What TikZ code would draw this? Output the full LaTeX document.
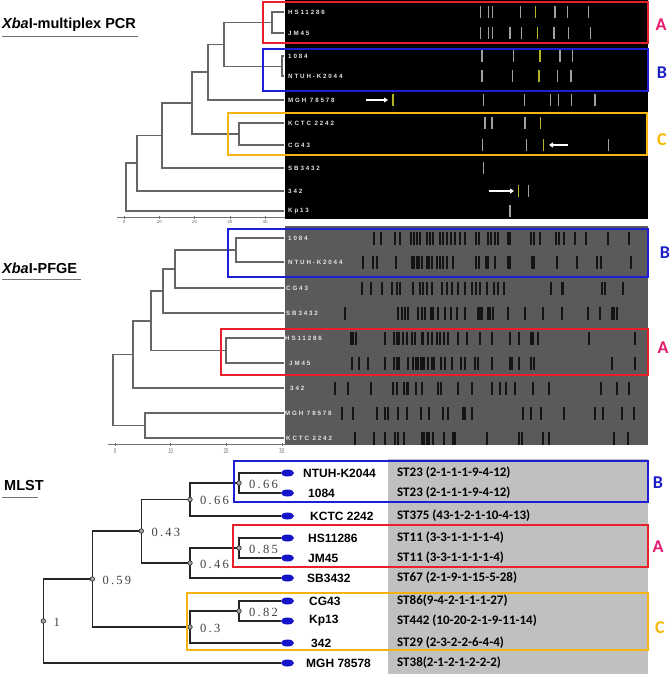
\documentclass[tikz,border=0pt]{standalone}
\usepackage{fontspec}
\setmainfont{Liberation Sans}
\newfontfamily\gelfont[LetterSpace=30]{Liberation Sans}
\newfontfamily\stfont{Carlito}
\newfontfamily\numfont[LetterSpace=18]{Liberation Serif}
\usetikzlibrary{arrows.meta,shapes.geometric}
\definecolor{boxred}{HTML}{E8202A}
\definecolor{boxblue}{HTML}{1E1ED8}
\definecolor{boxyel}{HTML}{F5B410}
\definecolor{letA}{HTML}{E6196E}
\definecolor{letB}{HTML}{1E1EC8}
\definecolor{letC}{HTML}{F5B800}
\definecolor{gelbg}{HTML}{5A5A5A}
\definecolor{bandgray}{HTML}{A0A0A0}
\definecolor{bandyel}{HTML}{B4B428}
\definecolor{stbg}{HTML}{C0C0C0}
\definecolor{ellblue}{HTML}{1414C8}
\newcommand\gelbands[4]{\foreach \bx in {#4} {\draw[#1] (\bx,#2-#3) -- (\bx,#2+#3);}}
\tikzset{
 tree/.style={line width=1.1pt, draw=black!60},
 mtree/.style={line width=1.3pt, draw=black!85},
 gellab/.style={anchor=west, inner sep=0pt, font=\gelfont\bfseries\fontsize{6.2}{7}\selectfont, text=black!10},
 pcrband/.style={line width=1.4pt, draw=bandgray},
 pcryband/.style={line width=1.4pt, draw=bandyel},
 pfband/.style={line width=1.4pt, draw=black!92},
 grpbox/.style={line width=1.8pt},
 grplet/.style={font=\stfont\bfseries\fontsize{18}{20}\selectfont, inner sep=0pt},
 mlab/.style={anchor=west, inner sep=0pt, font=\bfseries\fontsize{12}{14}\selectfont},
 stlab/.style={anchor=west, inner sep=0pt, font=\stfont\bfseries\fontsize{13}{15}\selectfont},
 numlab/.style={anchor=west, inner sep=0pt, font=\numfont\fontsize{12.5}{13}\selectfont, text=black!75},
 jdot/.style={circle, draw=black!80, fill=black!35, inner sep=0pt, minimum size=4.5pt, line width=0.7pt},
 mell/.style={ellipse, fill=ellblue, minimum width=13pt, minimum height=7pt, inner sep=0pt},
 whitearrow/.style={draw=white, line width=1.4pt, -{Triangle[length=4pt,width=5pt]}},
 axisline/.style={draw=black!55, line width=0.8pt},
 ticklabA/.style={font=\fontsize{4.5}{4.5}\selectfont, text=black!60, inner sep=0pt},
 ticklabB/.style={font=\fontsize{7}{7}\selectfont, text=black!60, inner sep=0pt, xscale=0.6},
 titlelab/.style={anchor=west, inner sep=0pt, font=\bfseries\fontsize{14.5}{16}\selectfont},
 uline/.style={draw=black!55, line width=0.9pt},
}
\begin{document}
\begin{tikzpicture}[x=1pt,y=-1pt]
\useasboundingbox (0,0) rectangle (669,674);
% ================= backgrounds
\fill[black] (285,0) rectangle (648,219);
\fill[gelbg] (285,226) rectangle (648,445);
\fill[stbg] (388,459) rectangle (648,674);

% ================= titles
\node[titlelab] (t1) at (2,25) {\textit{Xba}I-multiplex PCR};
\draw[uline] (2,36) -- (138,36);
\node[titlelab] (t2) at (2,268) {\textit{Xba}I-PFGE};
\draw[uline] (2,279) -- (81,279);
\node[titlelab] (t3) at (4,486) {MLST};
\draw[uline] (2,497) -- (38,497);

% ================= PCR panel
\foreach \nm/\yy/\tx in {tHS/12/HS11286, tJM/33/JM45, t1084/56/1084, tNTUH/76/NTUH-K2044, tMGH/100/MGH 78578, tKCTC/123/KCTC 2242, tCG/145/CG43, tSB/168/SB3432, t342/191/342, tKp/211/Kp13}{
  \coordinate (\nm) at (284,\yy);
  \node[gellab] (\nm L) at (288,\yy) {\tx};
}
\coordinate (tJ1) at (272,22.5);
\coordinate (tJ2) at (282,66.5);
\coordinate (tJ3) at (224,44.5);
\coordinate (tJ4) at (208,72);
\coordinate (tJ5) at (239,134);
\coordinate (tJ6) at (192,103);
\coordinate (tJ7) at (162,135.5);
\coordinate (tJ8) at (137,163);
\coordinate (tJ9) at (126,187);
\draw[tree] (tHS) -| (tJ1) |- (tJM);
\draw[tree] (t1084) -| (tJ2) |- (tNTUH);
\draw[tree] (tJ1) -| (tJ3) |- (tJ2);
\draw[tree] (tJ3) -| (tJ4) |- (tMGH);
\draw[tree] (tKCTC) -| (tJ5) |- (tCG);
\draw[tree] (tJ4) -| (tJ6) |- (tJ5);
\draw[tree] (tJ6) -| (tJ7) |- (tSB);
\draw[tree] (tJ7) -| (tJ8) |- (t342);
\draw[tree] (tJ8) -| (tJ9) |- (tKp);
% axis
\draw[axisline] (117,217) -- (285,217);
\foreach \v [count=\i from 0] in {0,10,20,30,40}{
  \draw[axisline, line width=0.5pt] (124+35.3*\i,216) -- (124+35.3*\i,218.5);
  \node[ticklabA] (ta\i) at (124+35.3*\i,221.5) {\v};
}
% bands
\gelbands{pcrband}{12}{6}{480.7,488.3,492.7,520.7,555,567.3,588.3}
\gelbands{pcryband}{12}{6}{535.7}
\gelbands{pcrband}{33}{6}{480.7,488.7,492.7,510,521.7,554,568.3,590.7}
\gelbands{pcryband}{33}{6}{537.3}
\gelbands{pcrband}{56}{6}{482,513.3,560,572.7}
\gelbands{pcryband}{56}{6}{540}
\gelbands{pcrband}{76}{6}{482,512.7,557.7,571}
\gelbands{pcryband}{76}{6}{539}
\gelbands{pcrband}{100}{6}{483.3,524.3,550.7,558.7,571.7,595}
\gelbands{pcryband}{100}{6}{393}
\gelbands{pcrband}{123}{6}{485,492,525}
\gelbands{pcryband}{123}{6}{540.7}
\gelbands{pcrband}{145}{6}{482.7,526.7,608.7}
\gelbands{pcryband}{145}{6}{543.3}
\gelbands{pcrband}{168}{6}{483.3}
\gelbands{pcrband}{191}{6}{528.3}
\gelbands{pcryband}{191}{6}{518.3}
\gelbands{pcrband}{211}{6}{510}
% arrows
\coordinate (a1s) at (366,100); \coordinate (a1e) at (388,100);
\coordinate (a2s) at (568,145); \coordinate (a2e) at (549,145);
\coordinate (a3s) at (489,191); \coordinate (a3e) at (514,191);
\draw[whitearrow] (a1s) -- (a1e);
\draw[whitearrow] (a2s) -- (a2e);
\draw[whitearrow] (a3s) -- (a3e);
% boxes
\draw[grpbox, boxred] (263,2) rectangle (648,43);
\draw[grpbox, boxblue] (263,49) rectangle (648,91);
\draw[grpbox, boxyel] (228,113) rectangle (647,155);
\node[grplet, text=letA] (LA1) at (661,25) {A};
\node[grplet, text=letB] (LB1) at (662,73) {B};
\node[grplet, text=letC] (LC1) at (662,140) {C};

% ================= PFGE panel
\foreach \nm/\yy/\xx/\tx in {p1084/238/288/1084, pNTUH/262/288/NTUH-K2044, pCG/288/286/CG43, pSB/313/286/SB3432, pHS/338/285/HS11286, pJM/363/289/JM45, p342/388/290/342, pMGH/413/285/MGH 78578, pKCTC/438/286/KCTC 2242}{
  \coordinate (\nm) at (284,\yy);
  \node[gellab] (\nm L) at (\xx,\yy) {\tx};
}
\coordinate (pJ1) at (236,250);
\coordinate (pJ2) at (175,269);
\coordinate (pJ3) at (163,291);
\coordinate (pJ4) at (226,350.5);
\coordinate (pJ5) at (151,321);
\coordinate (pJ6) at (133,354.5);
\coordinate (pJ7) at (145,425.5);
\coordinate (pJ8) at (113,390);
\draw[tree] (p1084) -| (pJ1) |- (pNTUH);
\draw[tree] (pJ1) -| (pJ2) |- (pCG);
\draw[tree] (pJ2) -| (pJ3) |- (pSB);
\draw[tree] (pHS) -| (pJ4) |- (pJM);
\draw[tree] (pJ3) -| (pJ5) |- (pJ4);
\draw[tree] (pJ5) -| (pJ6) |- (p342);
\draw[tree] (pMGH) -| (pJ7) |- (pKCTC);
\draw[tree] (pJ6) -| (pJ8) |- (pJ7);
\draw[axisline] (108,444) -- (285,444);
\foreach \v [count=\i from 0] in {0,10,20,30}{
  \draw[axisline, line width=0.5pt] (115+55.6*\i,443) -- (115+55.6*\i,446);
  \node[ticklabB] (tb\i) at (115+55.6*\i,451) {\v};
}
\gelbands{pfband}{238}{6.5}{374,381,395,400,411,414,417,420,427,430,433,440,443,447,451,455,460,465,476,479,488,491,495,498,508,510,531,534,540,556,559,564,575,586,608,629}
\gelbands{pfband}{262}{6.5}{363,373,377,396,412,414,417,419,422,427,429,432,437,440,443,447,453,476,479,486,488,495,508,510,532,534,557,577,597,601,631}
\gelbands{pfband}{288}{6.5}{362,371,382,392,397,400,413,420,423,427,432,442,447,452,458,465,472,476,480,487,494,498,504,551,562,563.5,602,605,623}
\gelbands{pfband}{313}{6.5}{345,398,402,405,408,418,422,425,431,433,438,445,451,457,465,478,480,482,488,490,493,508,525,543,562,588,600,612,614,617}
\gelbands{pfband}{338}{6.5}{351,353,356,385,394,397,399,403,407,412,415,422,423,428,432,437,440,444,448,458,467,480,492,510,519,531,533,538,589,635}
\gelbands{pfband}{363}{6.5}{352,359,368,385,394,397,399,408,413,416,418,421,422,424,428,432,434,441,445,452,461,465,475,478,492,510,512,519,531,534,612,635}
\gelbands{pfband}{388}{6.5}{335,348,371,393,397,404,407,408,416,422,438,441,458,472,492,500,506,515,533,549,601,617,629}
\gelbands{pfband}{413}{6.5}{342,353,377,385,388,398,407,421,429,443,448,463,465,472,523,531,541,564,595,603,622,634}
\gelbands{pfband}{438}{6.5}{355,374,385,395,398,404,422,424,427,429,433,444,453,455,487,519,522,543,549,614,628}
\draw[grpbox, boxblue] (228,229) rectangle (648,277);
\draw[grpbox, boxred] (221,329) rectangle (648,375);
\node[grplet, text=letB] (LB2) at (665,253) {B};
\node[grplet, text=letA] (LA2) at (663,348) {A};

% ================= MLST panel
\foreach \nm/\yy/\xx/\tx/\st in {mNTUH/473/303/NTUH-K2044/ST23 (2-1-1-1-9-4-12), m1084/493/308/1084/ST23 (2-1-1-1-9-4-12), mKCTC/516/310/KCTC 2242/ST375 (43-1-2-1-10-4-13), mHS/538/308/HS11286/ST11 (3-3-1-1-1-1-4), mJM/558/308/JM45/ST11 (3-3-1-1-1-1-4), mSB/578/307/SB3432/ST67 (2-1-9-1-15-5-28), mCG/601/309/CG43/ST86(9-4-2-1-1-1-27), mKp/621/309/Kp13/ST442 (10-20-2-1-9-11-14), m342/643/311/342/ST29 (2-3-2-2-6-4-4), mMGH/663/306/MGH 78578/ST38(2-1-2-1-2-2-2)}{
  \node[mell] (\nm) at (287.5,\yy) {};
  \node[mlab] (\nm L) at (\xx,\yy) {\tx};
  \node[stlab] (\nm S) at (397,\yy) {\st};
}
\coordinate (mJ1) at (239,483);
\coordinate (mJ2) at (190,499.5);
\coordinate (mJ3) at (239,548);
\coordinate (mJ4) at (190,563);
\coordinate (mJ5) at (141.3,531);
\coordinate (mJ6) at (239,611);
\coordinate (mJ7) at (190,627);
\coordinate (mJ8) at (92.3,579);
\coordinate (mJ9) at (43.3,621);
\draw[mtree] (mNTUH.west) -| (mJ1) |- (m1084.west);
\draw[mtree] (mJ1) -| (mJ2) |- (mKCTC.west);
\draw[mtree] (mHS.west) -| (mJ3) |- (mJM.west);
\draw[mtree] (mJ3) -| (mJ4) |- (mSB.west);
\draw[mtree] (mJ2) -| (mJ5) |- (mJ4);
\draw[mtree] (mCG.west) -| (mJ6) |- (mKp.west);
\draw[mtree] (mJ6) -| (mJ7) |- (m342.west);
\draw[mtree] (mJ5) -| (mJ8) |- (mJ7);
\draw[mtree] (mJ8) -| (mJ9) |- (mMGH.west);
\foreach \c/\v in {mJ1/0.66, mJ2/0.66, mJ3/0.85, mJ4/0.46, mJ5/0.43, mJ6/0.82, mJ7/0.3, mJ8/0.59, mJ9/1}{
  \node[jdot] (\c D) at (\c) {};
  \node[numlab] (\c N) at ([xshift=10pt,yshift=-1pt]\c) {\v};
}
\draw[grpbox, boxblue] (234,461) rectangle (648,502);
\draw[grpbox, boxred] (233,525) rectangle (648,567);
\draw[grpbox, boxyel] (187,593) rectangle (648,650);
\node[grplet, text=letB] (LB3) at (658,483) {B};
\node[grplet, text=letA] (LA3) at (658,547) {A};
\node[grplet, text=letC] (LC3) at (660,628) {C};
\end{tikzpicture}
\end{document}
